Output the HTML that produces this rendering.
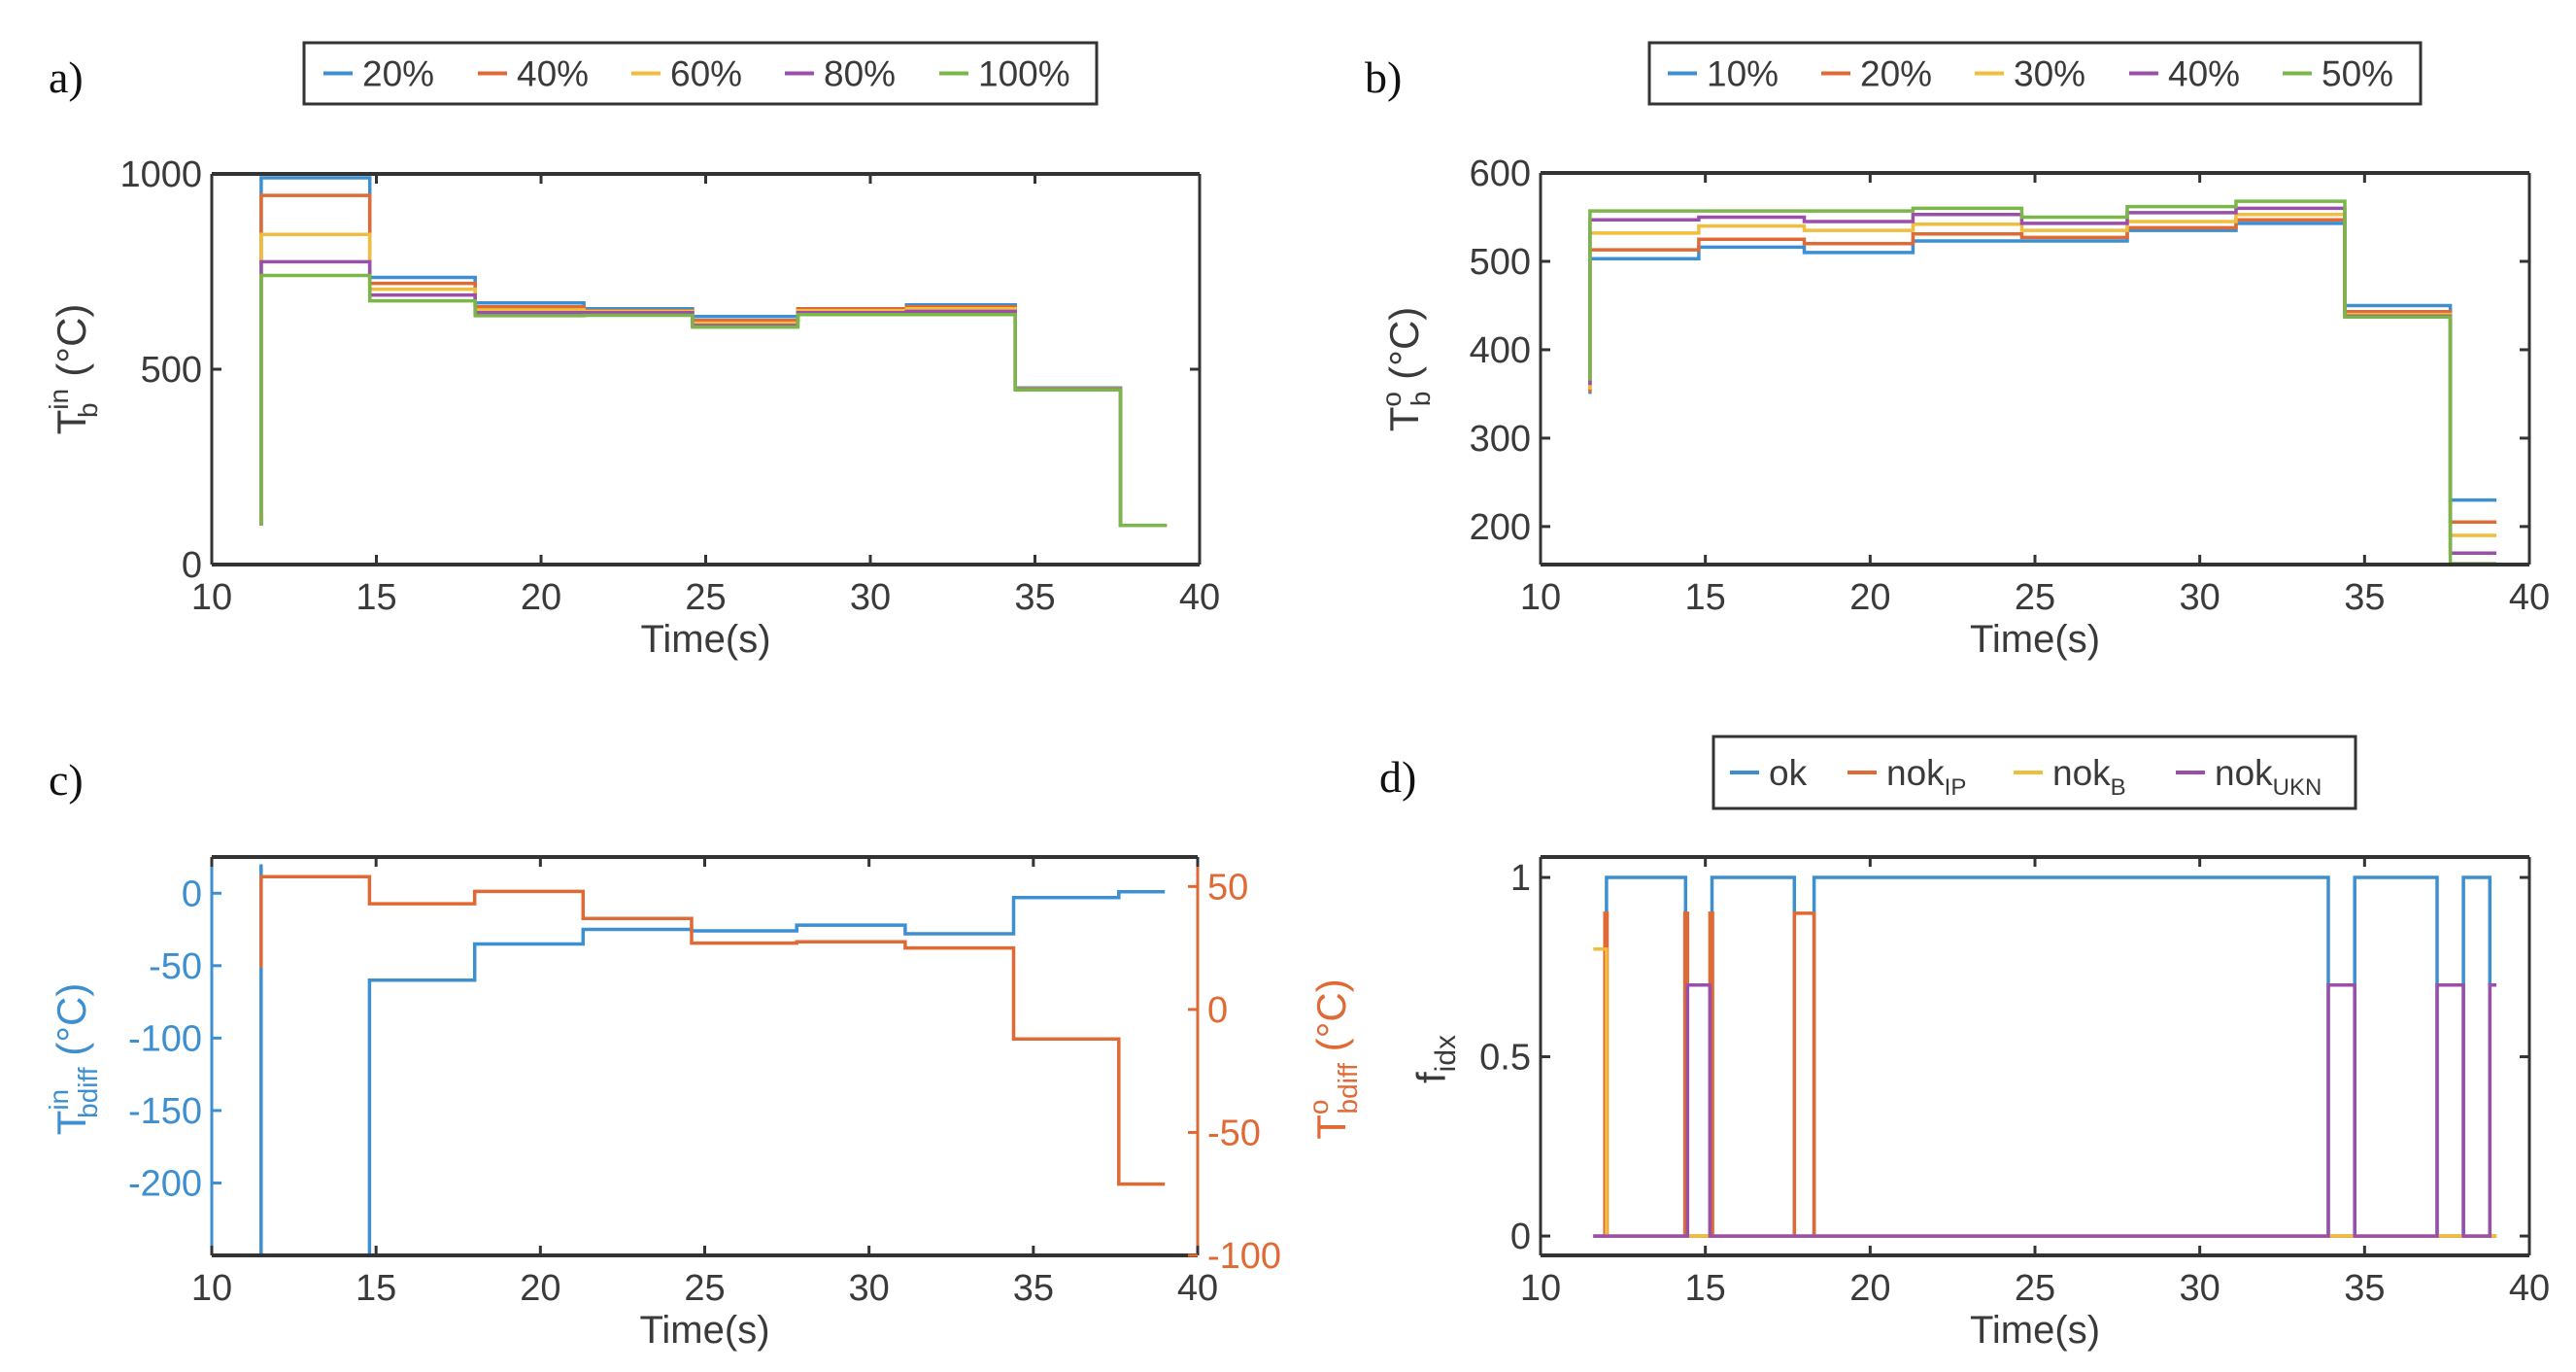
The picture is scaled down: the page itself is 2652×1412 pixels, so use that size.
<!DOCTYPE html>
<html><head><meta charset="utf-8"><style>
html,body{margin:0;padding:0;background:#fff;width:2652px;height:1412px;overflow:hidden;}
svg{display:block;font-family:"Liberation Sans",sans-serif;}
</style></head><body>
<svg id="fig" width="2652" height="1412" viewBox="0 0 2652 1412" xmlns="http://www.w3.org/2000/svg"></svg>
<script>
// ---------- DATA ----------
const tA = [11.5, 11.5, 14.8, 18.0, 21.3, 24.6, 27.8, 31.1, 34.4, 37.6, 39.0];
const aNames = ["20%", "40%", "60%", "80%", "100%"];
const a20  = [100, 990, 735, 670, 655, 635, 655, 665, 452, 100, 100];
const a40  = [100, 945, 720, 660, 650, 625, 655, 660, 450, 100, 100];
const a60  = [100, 845, 705, 652, 648, 618, 650, 655, 449, 100, 100];
const a80  = [100, 775, 690, 645, 645, 612, 645, 648, 448, 100, 100];
const a100 = [100, 740, 675, 637, 638, 608, 640, 640, 447, 100, 100];
const aTicksY = [0, 500, 1000];

const bNames = ["10%", "20%", "30%", "40%", "50%"];
const b10 = [350, 503, 516, 510, 523, 523, 535, 543, 450, 230, 230];
const b20 = [352, 513, 525, 520, 531, 527, 538, 547, 443, 205, 205];
const b30 = [355, 532, 540, 535, 542, 535, 545, 553, 440, 190, 190];
const b40 = [360, 547, 550, 545, 553, 543, 555, 560, 438, 170, 170];
const b50 = [365, 557, 557, 557, 560, 550, 562, 568, 437, 158, 158];
const bTicksY = [200, 300, 400, 500, 600];

const tC = [11.5, 11.5, 11.5, 14.8, 18.0, 21.3, 24.6, 27.8, 31.1, 34.4, 37.6, 39.0];
const cIn = [-260, 20, -400, -60, -35, -25, -26, -22, -28, -3, 1, 1];
const cOut = [17, 17, 54, 43, 48, 37, 27, 27.5, 25, -12, -71, -71];
const cTicksL = [-200, -150, -100, -50, 0];
const cTicksR = [-100, -50, 0, 50];

const dNames = ["ok", "nok_IP", "nok_B", "nok_UKN"];
const tOk = [11.6, 12.0, 14.4, 15.2, 17.7, 18.3, 33.9, 34.7, 37.2, 38.0, 38.8, 39.0];
const vOk = [0, 1, 0, 1, 0, 1, 0, 1, 0, 1, 0, 0];
const tIP = [11.6, 11.95, 12.02, 14.38, 14.46, 15.14, 15.22, 17.7, 18.3, 39.0];
const vIP = [0, 0.9, 0, 0.9, 0, 0.9, 0, 0.9, 0, 0];
const tB = [11.6, 11.95, 12.0, 39.0];
const vB = [0.8, 0.8, 0, 0];
const tUKN = [11.6, 14.46, 15.14, 33.9, 34.7, 37.2, 38.0, 38.8, 39.0];
const vUKN = [0, 0.7, 0, 0.7, 0, 0.7, 0, 0.7, 0.7];
const dTicksY = [0, 0.5, 1];
const dTickLabels = ["0", "0.5", "1"];
const xTicks = [10, 15, 20, 25, 30, 35, 40];

// ---------- HELPERS ----------
const NS = "http://www.w3.org/2000/svg";
const svg = document.getElementById("fig");
const COL = ["#3d8fd0", "#e06a35", "#f0bd3c", "#9a4fab", "#7ab648"];
const TXT = "#3a3a3a";
function el(tag, attrs, parent) {
  const e = document.createElementNS(NS, tag);
  for (const k in attrs) e.setAttribute(k, attrs[k]);
  (parent || svg).appendChild(e);
  return e;
}
function lin(d0, d1, r0, r1) { return v => r0 + (v - d0) / (d1 - d0) * (r1 - r0); }
function stepPath(ts, vs, X, Y) {
  let d = "M" + X(ts[0]).toFixed(1) + "," + Y(vs[0]).toFixed(1);
  for (let i = 1; i < ts.length; i++) d += "H" + X(ts[i]).toFixed(1) + "V" + Y(vs[i]).toFixed(1);
  return d;
}
let clipN = 0;
function panel(name, L, R, T, B, ymin, ymax) {
  const g = el("g", {});
  
  
  const X = lin(10, 40, L, R), Y = lin(ymin, ymax, B, T);
  const id = "clip" + (clipN++);
  const cp = el("clipPath", { id: id }, g);
  el("rect", { x: L, y: T, width: R - L, height: B - T }, cp);
  const plot = el("g", { "clip-path": "url(#" + id + ")" }, g);
  return { g, X, Y, plot, L, R, T, B };
}
function frame(p) {
  const g = p.g;
  xTicks.forEach(t => {
    const x = p.X(t);
    const tk = el("line", { x1: x, x2: x, y1: p.B, y2: p.B - 10, stroke: "#333", "stroke-width": 3 }, g);
    
    
    el("line", { x1: x, x2: x, y1: p.T, y2: p.T + 10, stroke: "#333", "stroke-width": 3 }, g);
    const lb = el("text", { x: x, y: p.B + 46, "font-size": 38, "text-anchor": "middle", fill: TXT }, g);
    lb.textContent = t;
    
    
  });
  const xl = el("text", { x: (p.L + p.R) / 2, y: p.B + 90, "font-size": 40, "text-anchor": "middle", fill: TXT }, g);
  xl.textContent = "Time(s)";
  
  
}
function yTicks(p, ticks, labels, Yf, side, color) {
  ticks.forEach((v, i) => {
    const y = Yf(v);
    const x0 = side === "left" ? p.L : p.R;
    const dir = side === "left" ? 1 : -1;
    const tk = el("line", { x1: x0, x2: x0 + dir * 10, y1: y, y2: y, stroke: color, "stroke-width": 3 }, p.g);
    
    
    if (side === "left" && color === "#333") {
      el("line", { x1: p.R, x2: p.R - 10, y1: y, y2: y, stroke: color, "stroke-width": 3 }, p.g);
    }
    const lb = el("text", { x: side === "left" ? p.L - 10 : p.R + 10, y: y + 13, "font-size": 38,
      "text-anchor": side === "left" ? "end" : "start", fill: color === "#333" ? TXT : color }, p.g);
    lb.textContent = labels ? labels[i] : v;
    
    
  });
}
function box(p, leftCol, rightCol) {
  el("line", { x1: p.L, x2: p.R, y1: p.T, y2: p.T, stroke: "#333", "stroke-width": 4 }, p.g);
  el("line", { x1: p.L, x2: p.R, y1: p.B, y2: p.B, stroke: "#333", "stroke-width": 4 }, p.g);
  el("line", { x1: p.L, x2: p.L, y1: p.T, y2: p.B, stroke: leftCol, "stroke-width": 3 }, p.g);
  el("line", { x1: p.R, x2: p.R, y1: p.T, y2: p.B, stroke: rightCol, "stroke-width": 3 }, p.g);
}
function series(p, ts, vs, color, name, Yf) {
  const s = el("path", { d: stepPath(ts, vs, p.X, Yf || p.Y), fill: "none", stroke: color, "stroke-width": 3.5 }, p.plot);
  
  
}
function legend(name, x0, y0, x1, y1, items) {
  const g = el("g", {});
  
  
  el("rect", { x: x0, y: y0, width: x1 - x0, height: y1 - y0, fill: "#fff", stroke: "#333", "stroke-width": 3 }, g);
  const cy = (y0 + y1) / 2;
  items.forEach(it => {
    const e = el("g", {}, g);
    
    
    el("line", { x1: it.x, x2: it.x + 30, y1: cy, y2: cy, stroke: it.c, "stroke-width": 4 }, e);
    const t = el("text", { x: it.x + 40, y: cy + 13, "font-size": 37, fill: TXT }, e);
    t.textContent = it.t;
    if (it.sub) {
      const s = el("tspan", { "font-size": 24, dy: 10 }, t);
      s.textContent = it.sub;
    }
  });
}
function panelLabel(txt, x, y) {
  const t = el("text", { x: x, y: y, "font-size": 46, "font-family": "Liberation Serif, serif", fill: "#111" });
  t.textContent = txt;
  
  
}
function yTitle(x, y, base, sup, sub, color, name) {
  const t = el("text", { x: 0, y: 0, "font-size": 42, fill: color, transform: "translate(" + x + "," + y + ") rotate(-90)", "text-anchor": "middle" });
  
  
  const a = el("tspan", {}, t); a.textContent = base;
  const s1 = el("tspan", { "font-size": 28, dy: -18 }, t); s1.textContent = sup;
  const s2 = el("tspan", { "font-size": 28, dx: -(sup.length * 15), dy: 30 }, t); s2.textContent = sub;
  const extra = Math.max(0, (sup.length - sub.length) * 15);
  const c = el("tspan", { dy: -12, dx: extra }, t); c.textContent = " (\u00B0C)";
}

// ---------- PANEL A ----------
const pa = panel("panel-a", 218, 1235, 179, 581, 0, 1000);
[a20, a40, a60, a80, a100].forEach((s, i) => series(pa, tA, s, COL[i], "line-a-" + aNames[i]));
box(pa, "#333", "#333");
frame(pa);
yTicks(pa, aTicksY, null, pa.Y, "left", "#333");
legend("legend-a", 313, 44, 1129, 107, aNames.map((n, i) => ({ x: [333, 492, 650, 808, 967][i], c: COL[i], t: n })));
panelLabel("a)", 50, 95);
yTitle(88, 380, "T", "in", "b", TXT, "y-axis-title-a");

// ---------- PANEL B ----------
const pb = panel("panel-b", 1586, 2604, 178, 581, 157, 600);
[b10, b20, b30, b40, b50].forEach((s, i) => series(pb, tA, s, COL[i], "line-b-" + bNames[i]));
box(pb, "#333", "#333");
frame(pb);
yTicks(pb, bTicksY, null, pb.Y, "left", "#333");
legend("legend-b", 1698, 44, 2492, 107, bNames.map((n, i) => ({ x: [1717, 1875, 2033, 2192, 2350][i], c: COL[i], t: n })));
panelLabel("b)", 1405, 95);
yTitle(1460, 380, "T", "o", "b", TXT, "y-axis-title-b");

// ---------- PANEL C ----------
const pc = panel("panel-c", 218, 1233, 882, 1292, -250, 25);
const YR = lin(-100, 62, 1292, 882);
series(pc, tC, cIn, COL[0], "line-c-tin-bdiff");
series(pc, tC, cOut, COL[1], "line-c-to-bdiff", YR);
box(pc, COL[0], COL[1]);
frame(pc);
yTicks(pc, cTicksL, null, pc.Y, "left", COL[0]);
yTicks(pc, cTicksR, null, YR, "right", COL[1]);
panelLabel("c)", 50, 818);
yTitle(88, 1090, "T", "in", "bdiff", COL[0], "y-axis-title-c-left");
yTitle(1385, 1090, "T", "o", "bdiff", COL[1], "y-axis-title-c-right");

// ---------- PANEL D ----------
const pd = panel("panel-d", 1586, 2604, 882, 1292, -0.054, 1.057);
series(pd, tOk, vOk, COL[0], "line-d-ok");
series(pd, tIP, vIP, COL[1], "line-d-nok-ip");
series(pd, tB, vB, COL[2], "line-d-nok-b");
series(pd, tUKN, vUKN, COL[3], "line-d-nok-ukn");
box(pd, "#333", "#333");
frame(pd);
yTicks(pd, dTicksY, dTickLabels, pd.Y, "left", "#333");
legend("legend-d", 1764, 758, 2425, 832, [
  { x: 1781, c: COL[0], t: "ok" },
  { x: 1902, c: COL[1], t: "nok", sub: "IP" },
  { x: 2073, c: COL[2], t: "nok", sub: "B" },
  { x: 2240, c: COL[3], t: "nok", sub: "UKN" }]);
panelLabel("d)", 1420, 815);
(function () {
  const t = el("text", { x: 0, y: 0, "font-size": 42, fill: TXT, transform: "translate(1488,1090) rotate(-90)", "text-anchor": "middle" });
  
  
  const a = el("tspan", {}, t); a.textContent = "f";
  const s = el("tspan", { "font-size": 30, dy: 10 }, t); s.textContent = "idx";
})();
</script>
</body></html>
